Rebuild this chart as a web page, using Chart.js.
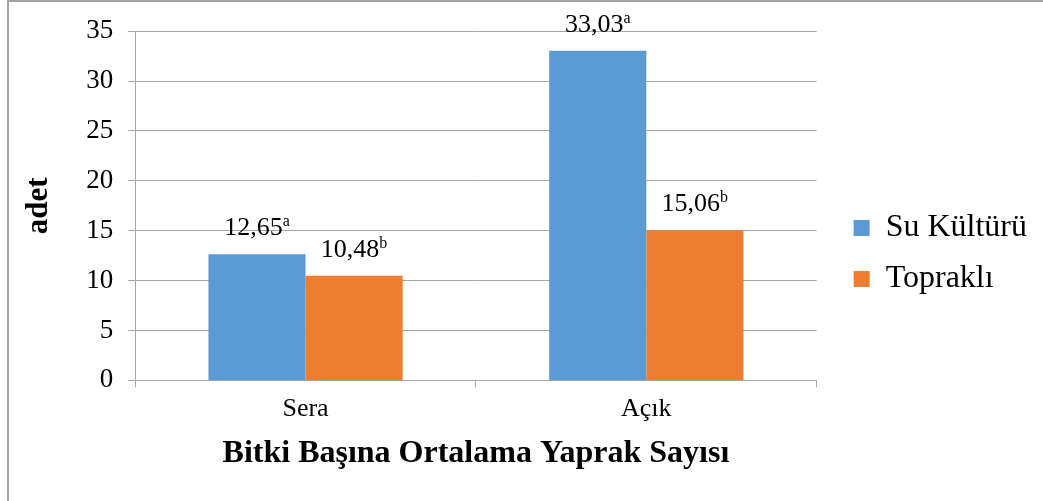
<!DOCTYPE html>
<html>
<head>
<meta charset="utf-8">
<script src="https://cdn.jsdelivr.net/npm/chart.js@4/dist/chart.umd.min.js"></script>
<style>
  html, body { margin: 0; padding: 0; background: #fff; }
  #wrap { position: relative; width: 1043px; height: 501px; overflow: hidden; }
  #frame {
    position: absolute; left: 7px; top: 0; width: 1100px; height: 600px;
    border-left: 2px solid #a6a6a6; border-top: 2px solid #a6a6a6;
    pointer-events: none;
  }
  canvas { position: absolute; left: 0; top: 0; }
</style>
</head>
<body>
<div id="wrap">
  <canvas id="chart" width="1043" height="501"></canvas>
  <div id="frame"></div>
</div>
<script>
const categories = ['Sera', 'Açık'];
const suKulturu = [12.65, 33.03];
const toprakli = [10.48, 15.06];
const suLetters = ['a', 'a'];
const topLetters = ['b', 'b'];
const seriesNames = ['Su Kültürü', 'Topraklı'];
const yTicks = [0, 5, 10, 15, 20, 25, 30, 35];

const SERIF = '"Liberation Serif", "Times New Roman", serif';

// value labels like "12,65" with a small superscript letter
const valueLabels = {
  id: 'valueLabels',
  afterDatasetsDraw(chart) {
    const ctx = chart.ctx;
    const letters = [suLetters, topLetters];
    chart.data.datasets.forEach((ds, di) => {
      const meta = chart.getDatasetMeta(di);
      meta.data.forEach((bar, i) => {
        const main = ds.data[i].toFixed(2).replace('.', ',');
        const sup = letters[di][i];
        ctx.save();
        ctx.font = '26px ' + SERIF;
        const w1 = ctx.measureText(main).width;
        ctx.font = '16px ' + SERIF;
        const w2 = ctx.measureText(sup).width;
        const x0 = bar.x - (w1 + w2) / 2;
        const base = bar.y - 19;
        ctx.fillStyle = '#000';
        ctx.textBaseline = 'alphabetic';
        ctx.textAlign = 'left';
        ctx.font = '26px ' + SERIF;
        ctx.fillText(main, x0, base);
        ctx.font = '16px ' + SERIF;
        ctx.fillText(sup, x0 + w1, base - 9);
        ctx.restore();
      });
    });
  }
};

// nudge the legend a bit to the right of the plot
const legendShift = {
  id: 'legendShift',
  afterLayout(chart) {
    if (chart.legend) {
      chart.legend.left += 18;
      chart.legend.right += 18;
    }
  }
};

new Chart(document.getElementById('chart'), {
  type: 'bar',
  data: {
    labels: categories,
    datasets: [
      { label: seriesNames[0], data: suKulturu, backgroundColor: '#5b9bd5' },
      { label: seriesNames[1], data: toprakli, backgroundColor: '#ed7d31' }
    ]
  },
  options: {
    responsive: false,
    animation: false,
    devicePixelRatio: 1,
    layout: { padding: { left: 10, top: 30, right: 24, bottom: 24 } },
    datasets: { bar: { categoryPercentage: 0.57, barPercentage: 1 } },
    plugins: {
      tooltip: { enabled: false },
      legend: {
        position: 'right',
        labels: {
          color: '#000',
          font: { family: SERIF, size: 32 },
          boxWidth: 16,
          boxHeight: 16,
          padding: 19
        }
      }
    },
    scales: {
      x: {
        grid: { drawOnChartArea: false, drawTicks: true, tickLength: 7, color: '#a6a6a6', offset: true },
        border: { color: '#a6a6a6', width: 1 },
        ticks: { color: '#000', font: { family: SERIF, size: 26 }, padding: 6 },
        title: {
          display: true,
          text: 'Bitki Başına Ortalama Yaprak Sayısı',
          color: '#000',
          font: { family: SERIF, size: 32, weight: 'bold' },
          padding: { top: 4, bottom: 4 }
        }
      },
      y: {
        min: 0,
        max: 35,
        afterBuildTicks(scale) {
          scale.ticks = yTicks.map(v => ({ value: v }));
        },
        grid: { color: '#a6a6a6', tickLength: 7 },
        border: { color: '#a6a6a6', width: 1 },
        ticks: { color: '#000', font: { family: SERIF, size: 27 }, padding: 15 },
        title: {
          display: true,
          text: 'adet',
          color: '#000',
          font: { family: SERIF, size: 31, weight: 'bold' },
          padding: { top: 10, bottom: 14 }
        }
      }
    }
  },
  plugins: [valueLabels, legendShift]
});
</script>
</body>
</html>
